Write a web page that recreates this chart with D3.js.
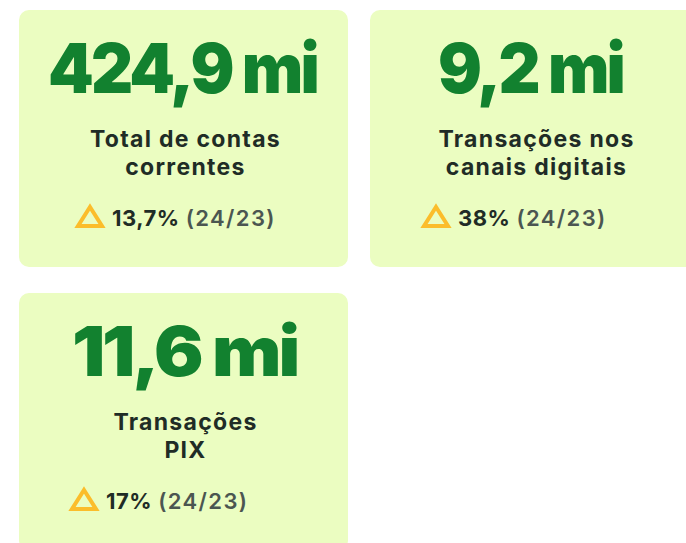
<!DOCTYPE html>
<html>
<head>
<meta charset="utf-8">
<script src="https://cdn.jsdelivr.net/npm/d3@7"></script>
<style>
  body { margin: 0; background: #fff; }
  svg { display: block; }
  text { font-family: Inter, Roboto, "DejaVu Sans", sans-serif; }
</style>
</head>
<body>
<svg width="686" height="543"></svg>
<script>
// kpi values
const values = ["424,9 mi", "9,2 mi", "11,6 mi"]
const labels = [
    ["Total de contas", "correntes"],
    ["Transações nos", "canais digitais"],
    ["Transações", "PIX"]
]
const growth = ["13,7%", "38%", "17%"]
const period = ["(24/23)", "(24/23)", "(24/23)"]

// layout (not data)
const CARD_W = 329
const CARD_H = 257
const cardPos = [[19, 10], [370, 10], [19, 293]]
const bigWidth = [269, 185, 225]
const bigShift = [-1, -4, 1]
const deltaLeft = [57, 52, 51]

const GREEN = "#12812f"
const DARK = "#1f2c26"
const GREY = "#4b5651"
const YELLOW = "#fbbd2b"
const CARD_FILL = "#ebfdc1"

const svg = d3.select("svg")

const cards = svg.selectAll("g.card")
    .data(values.map((v, i) => ({ v: v, lab: labels[i], g: growth[i], p: period[i], i: i })))
    .join("g")
    .attr("class", "card")
    .attr("transform", d => "translate(" + cardPos[d.i] + ")")

cards.append("rect")
    .attr("width", CARD_W)
    .attr("height", CARD_H)
    .attr("rx", 10)
    .attr("fill", CARD_FILL)

// big number
cards.append("text")
    .attr("x", d => CARD_W / 2 + bigShift[d.i])
    .attr("y", 83)
    .attr("text-anchor", "middle")
    .attr("fill", GREEN)
    .style("font-size", "69px")
    .style("font-weight", 900)
    .style("letter-spacing", "-3px")
    .attr("textLength", d => bigWidth[d.i])
    .attr("lengthAdjust", "spacingAndGlyphs")
    .text(d => d.v)

// subtitle, two lines
cards.each(function(d) {
    const g = d3.select(this)
    d.lab.forEach((line, j) => {
        g.append("text")
            .attr("x", CARD_W / 2 + 2)
            .attr("y", 137 + j * 28)
            .attr("text-anchor", "middle")
            .attr("fill", DARK)
            .style("font-size", "23px")
            .style("font-weight", 700)
            .style("letter-spacing", "1.3px")
            .text(line)
    })
})

// delta row
const row = cards.append("g")
    .attr("transform", d => "translate(" + deltaLeft[d.i] + ",0)")

row.append("path")
    .attr("d", "M14,197 L26,216 L2,216 Z")
    .attr("fill", "none")
    .attr("stroke", YELLOW)
    .attr("stroke-width", 4)
    .attr("stroke-linejoin", "miter")

const t = row.append("text")
    .attr("x", 36)
    .attr("y", 216)
    .style("font-size", "22px")
    .style("font-weight", 700)

t.append("tspan")
    .attr("fill", DARK)
    .style("letter-spacing", "0.5px")
    .text(d => d.g)

t.append("tspan")
    .attr("fill", GREY)
    .attr("dx", 6)
    .style("font-weight", 600)
    .style("letter-spacing", "1.4px")
    .text(d => d.p)
</script>
</body>
</html>
